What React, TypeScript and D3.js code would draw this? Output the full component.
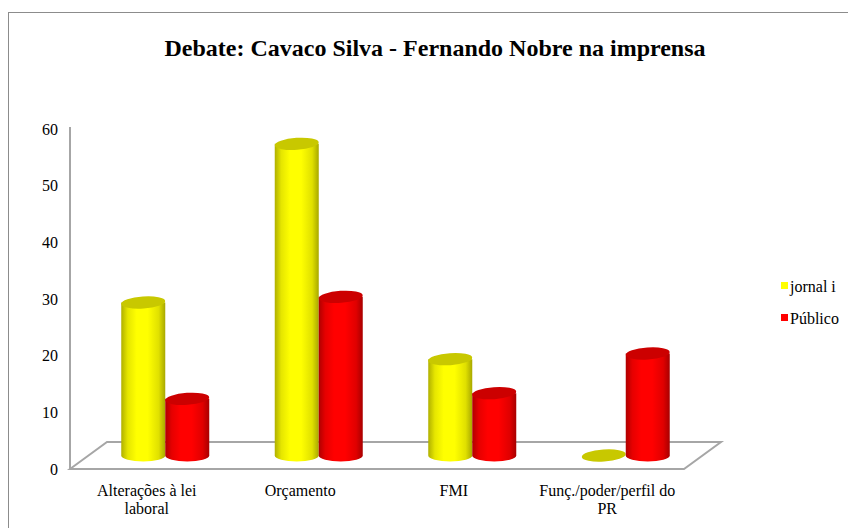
import React from "react";
import * as d3 from "d3";

const categories = ["Alterações à lei laboral", "Orçamento", "FMI", "Funç./poder/perfil do PR"];
const categoryLines = [["Alterações à lei", "laboral"], ["Orçamento"], ["FMI"], ["Funç./poder/perfil do", "PR"]];
const seriesNames = ["jornal i", "Público"];
const jornalI = [27, 55, 17, 0];
const publico = [10, 28, 11, 18];
const yTicks = [0, 10, 20, 30, 40, 50, 60];

const W = 848, H = 528;
const FONT = "'Liberation Serif', 'Times New Roman', Times, 'DejaVu Serif', serif";

export default function App() {
  const x = d3.scaleBand<string>().domain(categories).range([70, 684]).padding(0);
  const y = d3.scaleLinear().domain([0, 60]).range([469, 129]);
  const dx = 37, dy = -27; // floor depth
  const bx = dx / 2, by = dy / 2; // bars at mid depth
  const barW = 44, ry = 6;
  const series = [
    { name: seriesNames[0], values: jornalI, grad: "gY", top: "#c8c800", sw: "#ffff00", off: -1 },
    { name: seriesNames[1], values: publico, grad: "gR", top: "#cc0000", sw: "#ff0000", off: 0 },
  ];
  const gray = "#a6a6a6";
  const x0 = 70, x1 = 684, yF = 469;
  const ts = { fontFamily: FONT };

  return (
    <svg width={W} height={H} style={{ position: "absolute", left: 0, top: 0, background: "#fff", fontFamily: FONT }}>
      <defs>
        <linearGradient id="gY" x1="0" x2="1" y1="0" y2="0">
          <stop offset="0" stopColor="#b0b000" />
          <stop offset="0.15" stopColor="#e6e600" />
          <stop offset="0.35" stopColor="#ffff00" />
          <stop offset="0.6" stopColor="#ffff00" />
          <stop offset="0.85" stopColor="#e0e000" />
          <stop offset="1" stopColor="#a8a800" />
        </linearGradient>
        <linearGradient id="gR" x1="0" x2="1" y1="0" y2="0">
          <stop offset="0" stopColor="#b00000" />
          <stop offset="0.15" stopColor="#e60000" />
          <stop offset="0.35" stopColor="#ff0000" />
          <stop offset="0.6" stopColor="#ff0000" />
          <stop offset="0.85" stopColor="#e00000" />
          <stop offset="1" stopColor="#a80000" />
        </linearGradient>
      </defs>
      <rect x={8.5} y={12.5} width={1000} height={1000} fill="#fff" stroke="#8c8c8c" strokeWidth={1} />
      <text x={435} y={56} textAnchor="middle" style={ts} fontWeight="bold" fontSize={24}>
        Debate: Cavaco Silva - Fernando Nobre na imprensa
      </text>
      {/* floor */}
      <path
        d={`M${x0},${yF} L${x0 + dx},${yF + dy} L${x1 + dx},${yF + dy} L${x1},${yF} Z`}
        fill="#fff" stroke={gray} strokeWidth={2} strokeLinejoin="miter"
      />
      {/* value axis */}
      <line x1={x0} x2={x0} y1={y(60) - 2} y2={yF + 1} stroke={gray} strokeWidth={2} />
      {yTicks.map((t) => (
        <text key={t} x={58} y={y(t) + 5.5} textAnchor="end" style={ts} fontSize={16}>{t}</text>
      ))}
      {/* bars */}
      {categories.map((c, i) => {
        const cx = (x(c) as number) + x.bandwidth() / 2 + bx;
        return (
          <g key={c}>
            {series.map((s) => {
              const left = cx + s.off * barW;
              const right = left + barW;
              const mid = (left + right) / 2;
              const base = y(0) + by;
              const top = y(s.values[i]) + by;
              if (s.values[i] === 0) {
                return <ellipse key={s.name} cx={mid} cy={base} rx={barW / 2} ry={ry} fill={s.top} transform={`rotate(-4 ${mid} ${base})`} />;
              }
              return (
                <g key={s.name}>
                  <path d={`M${left},${top} L${left},${base} A${barW / 2},${ry} 0 0 0 ${right},${base} L${right},${top} Z`} fill={`url(#${s.grad})`} />
                  <ellipse cx={mid} cy={top} rx={barW / 2} ry={ry} fill={s.top} transform={`rotate(-4 ${mid} ${top})`} />
                </g>
              );
            })}
          </g>
        );
      })}
      {/* category labels */}
      {categories.map((c, i) => (
        <text key={c} textAnchor="middle" style={ts} fontSize={16}>
          {categoryLines[i].map((ln, j) => (
            <tspan key={j} x={(x(c) as number) + x.bandwidth() / 2} y={495.5 + j * 18}>{ln}</tspan>
          ))}
        </text>
      ))}
      {/* legend */}
      {series.map((s, i) => (
        <g key={s.name}>
          <rect x={781} y={282 + i * 32} width={7} height={7} fill={s.sw} />
          <text x={790} y={291.5 + i * 32} style={ts} fontSize={16}>{s.name}</text>
        </g>
      ))}
    </svg>
  );
}
